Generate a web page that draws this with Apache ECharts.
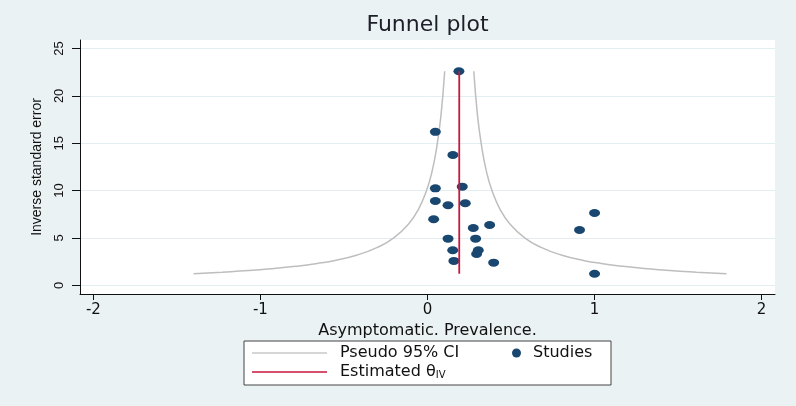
<!DOCTYPE html>
<html>
<head>
<meta charset="utf-8">
<script src="https://cdn.jsdelivr.net/npm/echarts@6/dist/echarts.min.js"></script>
<style>
html,body{margin:0;padding:0;background:#EAF2F3;}
#chart{width:796px;height:406px;}
</style>
</head>
<body>
<div id="chart"></div>
<script>
// Studies (x = prevalence, y = inverse standard error)
var studyX = [1.0, 0.91, 1.0, 0.188, 0.047, 0.152, 0.047, 0.208, 0.047, 0.123, 0.226, 0.037, 0.274, 0.372, 0.123, 0.288, 0.151, 0.304, 0.294, 0.158, 0.396];
var studyY = [7.63, 5.84, 1.22, 22.6, 16.2, 13.76, 10.24, 10.41, 8.9, 8.45, 8.66, 6.97, 6.05, 6.37, 4.92, 4.92, 3.70, 3.70, 3.30, 2.57, 2.39];

// Pseudo 95% CI curves
var ciY     = [1.22, 1.38, 1.55, 1.75, 2.0, 2.3, 2.6, 3.2, 4, 5, 6.5, 8, 10, 12, 15, 18, 22.6];
var ciLeft  = [-1.40, -1.23, -1.07, -0.93, -0.79, -0.66, -0.56, -0.42, -0.30, -0.202, -0.112, -0.055, -0.006, 0.027, 0.059, 0.081, 0.103];
var ciRight = [1.79, 1.61, 1.45, 1.31, 1.17, 1.04, 0.94, 0.80, 0.68, 0.582, 0.492, 0.435, 0.386, 0.353, 0.321, 0.299, 0.277];

// Estimated theta (IV) line
var thetaIV = 0.19;
var thetaYRange = [1.22, 22.6];

// Axes
var xTicks = [-2, -1, 0, 1, 2];
var yTicks = [0, 5, 10, 15, 20, 25];
var xRange = [-2.08, 2.08];
var yRange = [-0.92, 25.9];

function zip(xs, ys) { return xs.map(function (x, i) { return [x, ys[i]]; }); }

var chart = echarts.init(document.getElementById('chart'), null, {renderer: 'canvas'});
var option = {
  backgroundColor: '#EAF2F3',
  animation: false,
  title: {
    text: 'Funnel plot',
    left: 427.5,
    textAlign: 'center',
    top: 14,
    padding: 0,
    textStyle: {fontFamily: 'DejaVu Sans', fontSize: 22, fontWeight: 'normal', color: '#1e1e2a'}
  },
  grid: {
    left: 80, right: 21, top: 40, bottom: 112,
    show: true, backgroundColor: '#ffffff', borderWidth: 0
  },
  xAxis: {
    type: 'value',
    min: xRange[0], max: xRange[1],
    name: 'Asymptomatic. Prevalence.',
    nameLocation: 'middle',
    nameGap: 25,
    nameTextStyle: {fontFamily: 'DejaVu Sans', fontSize: 16, color: '#111'},
    axisLine: {show: true, onZero: false, lineStyle: {color: '#111', width: 1}},
    axisTick: {show: true, length: 6, customValues: xTicks, lineStyle: {color: '#111'}},
    axisLabel: {customValues: xTicks, margin: 9, fontFamily: 'DejaVu Sans', fontSize: 15, color: '#111'},
    splitLine: {show: false}
  },
  yAxis: {
    type: 'value',
    min: yRange[0], max: yRange[1],
    name: 'Inverse standard error',
    nameLocation: 'middle',
    nameRotate: 90,
    nameGap: 36,
    nameTextStyle: {fontFamily: 'Liberation Sans', fontSize: 14, color: '#111'},
    axisLine: {show: true, onZero: false, lineStyle: {color: '#111', width: 1}},
    axisTick: {show: true, length: 8, customValues: yTicks, lineStyle: {color: '#111'}},
    axisLabel: {customValues: yTicks, rotate: 90, margin: 14, fontFamily: 'Liberation Sans', fontSize: 13, color: '#111'},
    splitLine: {show: true, lineStyle: {color: '#E3EEF0', width: 1}}
  },
  legend: [
    {
      data: [
        {name: 'Pseudo 95% CI', icon: 'rect', itemStyle: {color: '#C8C8C8'}},
        {name: 'Estimated θIV', icon: 'rect', itemStyle: {color: '#C8163E'}}
      ],
      orient: 'vertical',
      left: 252, top: 345,
      padding: 0,
      itemWidth: 75, itemHeight: 1.6, itemGap: 3,
      formatter: function (name) {
        if (name === 'Estimated θIV') return '{g|}Estimated θ{sub|IV}';
        return '{g|}' + name;
      },
      textStyle: {
        fontFamily: 'DejaVu Sans', fontSize: 16, color: '#111',
        rich: {
          g: {width: 8},
          sub: {fontFamily: 'DejaVu Sans', fontSize: 10, verticalAlign: 'bottom', padding: [5, 0, 0, 0]}
        }
      }
    },
    {
      data: ['Studies'],
      left: 512, top: 345,
      padding: 0,
      icon: 'circle',
      itemWidth: 9, itemHeight: 9,
      formatter: function (name) { return '{g|}' + name; },
      textStyle: {fontFamily: 'DejaVu Sans', fontSize: 16, color: '#111', rich: {g: {width: 7}}}
    }
  ],
  graphic: [{
    type: 'rect', z: -1, silent: true,
    shape: {x: 244, y: 341, width: 367, height: 44},
    style: {fill: '#ffffff', stroke: '#444', lineWidth: 1}
  }],
  series: [
    {
      name: 'Pseudo 95% CI', type: 'line', data: zip(ciLeft, ciY),
      smooth: true, symbol: 'none', lineStyle: {color: '#BEBEBE', width: 1.5}, itemStyle: {color: '#BEBEBE'}, z: 2
    },
    {
      name: 'Pseudo 95% CI', type: 'line', data: zip(ciRight, ciY),
      smooth: true, symbol: 'none', lineStyle: {color: '#BEBEBE', width: 1.5}, itemStyle: {color: '#BEBEBE'}, z: 2
    },
    {
      name: 'Studies', type: 'scatter', data: zip(studyX, studyY),
      symbol: 'circle', symbolSize: [11, 8],
      itemStyle: {color: '#1A476F', opacity: 1}, z: 3
    },
    {
      name: 'Estimated θIV', type: 'line',
      data: [[thetaIV, thetaYRange[0]], [thetaIV, thetaYRange[1]]],
      symbol: 'none', lineStyle: {color: '#C8163E', width: 1.8}, itemStyle: {color: '#C8163E'}, z: 4
    }
  ]
};
chart.setOption(option);
</script>
</body>
</html>
